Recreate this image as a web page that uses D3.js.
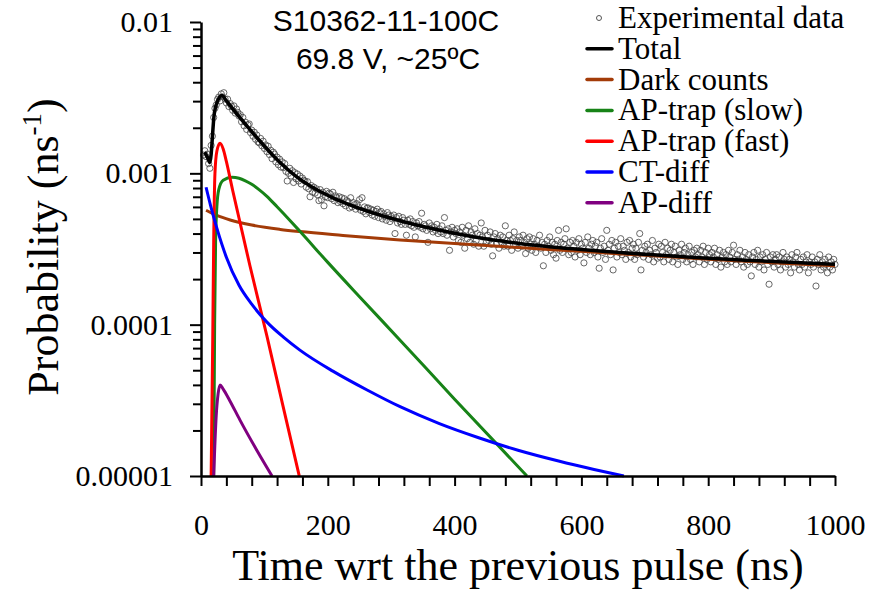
<!DOCTYPE html>
<html>
<head>
<meta charset="utf-8">
<script src="https://cdn.jsdelivr.net/npm/d3@7"></script>
<style>
  body { margin: 0; background: #fff; }
</style>
</head>
<body>
<script>
'use strict';

// experimental histogram, 2 ns bins starting at 4 ns, values in units of 1e-4 ns^-1
const expStart = 4;
const expStep = 2;
const expProb = [
13.2,14.1,12.9,13.4,11.6,10.8,15.3,17.6,23.4,26.9,
28.3,30.8,31.9,30.1,33.5,32.0,34.1,31.0,29.2,30.9,
27.6,28.9,27.8,26.1,27.9,25.0,26.6,25.3,23.9,24.4,
21.9,23.4,20.6,21.8,19.5,20.9,21.2,18.6,19.3,17.6,
18.7,16.8,17.9,16.1,15.9,17.0,15.2,16.3,14.6,15.4,
13.9,15.1,13.3,14.2,12.5,13.8,13.4,11.9,12.8,11.4,
12.4,11.0,11.9,10.9,11.6,10.3,8.9,10.0,10.8,9.6,
10.4,8.7,10.1,9.2,9.9,8.9,9.6,8.5,9.3,9.0,
8.9,8.1,8.8,7.9,7.0,8.3,7.5,8.1,7.4,7.9,
7.2,6.6,7.8,6.7,7.5,6.1,7.0,7.6,6.9,7.4,
7.3,6.8,7.5,6.6,7.1,6.9,6.4,7.0,6.5,6.9,
6.3,6.8,6.1,6.6,6.5,5.9,6.9,6.0,6.4,6.2,
5.8,6.3,6.0,6.7,5.7,6.9,5.6,6.0,5.4,5.9,
5.9,5.5,5.8,5.3,5.7,5.2,5.6,5.8,5.1,5.5,
5.6,5.0,5.4,5.2,4.9,5.5,5.3,4.8,5.2,5.0,
5.3,4.0,5.1,4.7,5.2,4.8,4.6,5.1,4.9,4.6,
3.9,4.9,4.6,5.0,4.5,4.8,4.4,3.8,4.7,4.5,
4.8,4.4,5.45,4.3,4.6,4.5,4.2,3.5,4.7,4.3,
4.5,4.1,4.4,4.2,4.6,4.0,4.3,4.1,4.5,4.0,
5.1,4.2,3.9,4.3,3.1,4.1,4.4,3.8,4.2,4.0,
4.3,3.6,4.1,3.5,4.4,3.9,3.2,4.2,3.7,4.5,
3.5,4.1,3.9,3.4,4.3,3.6,4.0,3.3,3.9,4.7,
3.8,3.3,4.2,3.5,3.9,3.6,4.1,3.4,2.85,3.8,
4.0,3.4,3.7,3.2,3.9,3.5,3.8,3.3,4.5,3.6,
3.3,3.9,3.6,3.1,3.7,4.1,3.4,3.6,3.2,3.8,
3.6,3.3,3.9,3.5,2.95,3.7,3.2,3.8,3.4,3.1,
3.7,3.4,3.0,3.6,3.3,3.9,3.2,3.5,2.45,3.4,
3.0,3.6,3.3,3.8,3.1,3.5,2.9,3.4,2.75,3.6,
4.2,3.1,3.5,3.0,3.4,3.7,4.3,3.2,2.9,3.5,
3.0,3.6,3.3,2.8,3.5,3.1,3.7,2.9,3.4,3.2,
2.56,3.5,3.0,3.8,3.2,2.9,3.4,3.6,3.0,3.3,
3.5,2.8,2.36,3.2,3.7,3.0,3.3,2.7,4.2,3.1,
3.4,2.9,3.6,2.3,3.2,3.5,2.8,3.3,3.0,3.7,
2.9,3.3,3.1,2.7,3.5,3.0,3.6,2.8,3.2,3.4,
2.7,3.2,2.9,3.5,4.0,2.3,3.1,2.8,3.3,3.0,
3.4,2.7,3.1,2.9,3.6,2.6,3.2,3.0,2.75,3.4,
2.8,3.3,3.0,2.6,3.5,2.9,3.2,2.7,3.1,3.4,
2.6,3.0,3.3,2.8,2.5,3.1,2.9,3.4,2.7,3.0,
3.2,2.6,2.9,3.3,2.7,3.0,2.5,3.1,2.8,3.2,
2.9,2.6,3.1,2.8,3.3,2.5,3.0,2.7,3.2,2.9,
2.6,3.0,2.8,3.2,2.5,2.9,2.7,3.1,2.4,2.8,
3.0,2.6,2.9,2.5,3.1,2.8,2.6,3.0,3.35,2.7,
2.5,2.9,2.7,3.1,2.6,2.8,2.4,3.0,2.7,2.5,
2.9,2.6,2.1,2.8,3.0,2.5,2.7,3.1,2.4,2.8,
2.6,2.9,2.3,2.7,3.0,2.5,1.85,2.8,2.6,2.9,
2.4,2.7,2.9,2.5,2.8,2.3,2.6,3.0,2.7,2.4,
2.8,2.5,2.7,2.2,2.9,2.6,2.4,2.8,3.0,2.5,
2.3,2.7,2.5,2.8,2.4,2.6,2.9,2.2,2.6,2.5,
2.8,2.4,2.6,1.8,2.7,2.5,2.9,2.3,2.6,2.4,
2.7,2.5,2.2,2.8,2.4,2.6,2.3,2.7,2.5
];

// fit curves (time in ns, probability in ns^-1)
const totalT = [6, 10, 14, 21, 26, 33, 40, 50, 69, 96, 121, 150, 180, 208, 261, 314, 366, 429, 535, 645, 787, 1000];
const totalP = [1.38e-3, 1.28e-3, 1.18e-3, 2.49e-3, 3.0e-3, 3.27e-3, 3.01e-3, 2.67e-3, 2.14e-3, 1.58e-3, 1.22e-3, 9.55e-4, 7.9e-4, 6.89e-4, 5.66e-4, 4.86e-4, 4.3e-4, 3.81e-4, 3.32e-4, 3.03e-4, 2.77e-4, 2.51e-4];

const darkT = [8, 25, 46, 80, 125, 156, 224, 314, 400, 500, 600, 700, 800, 900, 1000];
const darkP = [5.7e-4, 5.27e-4, 4.92e-4, 4.55e-4, 4.26e-4, 4.12e-4, 3.89e-4, 3.63e-4, 3.44e-4, 3.23e-4, 3.05e-4, 2.87e-4, 2.71e-4, 2.57e-4, 2.45e-4];

const slowT = [20, 21.5, 23, 25, 28, 35, 49, 60, 70, 80, 92, 104, 120, 140, 156, 200, 250, 314, 400, 514];
const slowP = [1e-5, 1e-4, 3.5e-4, 6e-4, 7.8e-4, 9.0e-4, 9.41e-4, 9.27e-4, 8.92e-4, 8.46e-4, 7.78e-4, 7.05e-4, 6.01e-4, 4.9e-4, 4.14e-4, 2.58e-4, 1.53e-4, 7.9e-5, 3.22e-5, 1e-5];

const fastT = [16, 18.5, 20, 22, 25, 30, 35, 40, 50, 60, 77, 104, 129, 155];
const fastP = [1e-5, 8e-5, 3.5e-4, 1.0e-3, 1.4e-3, 1.58e-3, 1.45e-3, 1.2e-3, 7.7e-4, 5.05e-4, 2.47e-4, 8.4e-5, 2.94e-5, 1e-5];

const ctT = [8, 15, 25, 40, 60, 80, 104, 130, 156, 208, 262, 314, 376, 438, 500, 564, 620, 667];
const ctP = [8.09e-4, 6.15e-4, 4.34e-4, 2.79e-4, 1.82e-4, 1.365e-4, 1.039e-4, 8.27e-5, 6.79e-5, 4.93e-5, 3.7e-5, 2.87e-5, 2.22e-5, 1.79e-5, 1.48e-5, 1.256e-5, 1.105e-5, 1e-5];

const apdT = [20, 24, 27, 30, 35, 45, 61.5, 88, 112];
const apdP = [1e-5, 2.5e-5, 3.5e-5, 4.0e-5, 3.75e-5, 3.17e-5, 2.34e-5, 1.48e-5, 1e-5];

const xTickLabels = [0, 200, 400, 600, 800, 1000];
const yTickValues = [1e-5, 1e-4, 1e-3, 1e-2];
const yTickLabels = ["0.00001", "0.0001", "0.001", "0.01"];

const legendLabels = ["Experimental data", "Total", "Dark counts", "AP-trap (slow)", "AP-trap (fast)", "CT-diff", "AP-diff"];
const legendColors = ["#555", "#000", "#a33b08", "#178317", "#ff0000", "#0000ff", "#800080"];

const serif = "'Liberation Serif', 'Times New Roman', serif";
const sans = "'Liberation Sans', Arial, sans-serif";

const svg = d3.select("body").append("svg")
  .attr("width", 883)
  .attr("height", 591);

const x = d3.scaleLinear().domain([0, 1000]).range([201, 835]);
const y = d3.scaleLog().domain([1e-5, 1e-2]).range([476, 22]);

svg.append("clipPath").attr("id", "plot")
  .append("rect").attr("x", 201).attr("y", 20).attr("width", 636).attr("height", 458);

// experimental points
svg.append("g")
  .selectAll("circle")
  .data(expProb)
  .enter().append("circle")
    .attr("cx", (d, i) => x(expStart + i * expStep))
    .attr("cy", d => y(d * 1e-4))
    .attr("r", 3.1)
    .attr("fill", "none")
    .attr("stroke", "#444")
    .attr("stroke-opacity", 0.8)
    .attr("stroke-width", 1);

const line = d3.line()
  .x(d => x(d[0]))
  .y(d => y(d[1]))
  .curve(d3.curveMonotoneX);

const curves = [
  [darkT, darkP, legendColors[2], 3],
  [slowT, slowP, legendColors[3], 3],
  [fastT, fastP, legendColors[4], 3],
  [ctT, ctP, legendColors[5], 3],
  [apdT, apdP, legendColors[6], 3],
  [totalT, totalP, legendColors[1], 3.5]
];

const gCurves = svg.append("g").attr("clip-path", "url(#plot)");
curves.forEach(c => {
  gCurves.append("path")
    .datum(c[0].map((t, i) => [t, c[1][i]]))
    .attr("d", line)
    .attr("fill", "none")
    .attr("stroke", c[2])
    .attr("stroke-width", c[3])
    .attr("stroke-linejoin", "round");
});

// axes
const xAxis = d3.axisBottom(x)
  .tickValues(d3.range(0, 1001, 40))
  .tickSize(10)
  .tickSizeOuter(0)
  .tickPadding(28)
  .tickFormat(d => xTickLabels.includes(d) ? d : "");

svg.append("g")
  .attr("transform", "translate(0,476)")
  .call(xAxis)
  .call(g => g.select(".domain").attr("stroke-width", 2.5))
  .call(g => g.selectAll(".tick line").attr("stroke-width", 2))
  .call(g => g.selectAll("text").attr("font-family", serif).attr("font-size", 30).attr("fill", "#000"));

let yMinor = [];
[1e-5, 1e-4, 1e-3].forEach(p => {
  for (let k = 2; k <= 9; k++) yMinor.push(p * k);
});

svg.append("g")
  .attr("transform", "translate(201,0)")
  .call(d3.axisLeft(y).tickValues(yMinor).tickSize(8).tickSizeOuter(0).tickFormat(""))
  .call(g => g.select(".domain").remove())
  .call(g => g.selectAll(".tick line").attr("stroke-width", 2));

svg.append("g")
  .attr("transform", "translate(201,0)")
  .call(d3.axisLeft(y).tickValues(yTickValues).tickSize(11).tickSizeOuter(0).tickPadding(17)
    .tickFormat((d, i) => yTickLabels[i]))
  .call(g => g.select(".domain").attr("stroke-width", 2.5))
  .call(g => g.selectAll(".tick line").attr("stroke-width", 2))
  .call(g => g.selectAll("text").attr("font-family", serif).attr("font-size", 30).attr("fill", "#000"));

// axis titles
svg.append("text")
  .attr("x", 518)
  .attr("y", 580)
  .attr("text-anchor", "middle")
  .attr("font-family", serif)
  .attr("font-size", 44)
  .text("Time wrt the previous pulse (ns)");

const yTitle = svg.append("text")
  .attr("transform", "translate(58,247) rotate(-90)")
  .attr("text-anchor", "middle")
  .attr("font-family", serif)
  .attr("font-size", 44);
yTitle.append("tspan").text("Probability (ns");
yTitle.append("tspan").attr("font-size", 27).attr("dy", -17).text("-1");
yTitle.append("tspan").attr("dy", 17).text(")");

// title
svg.append("text")
  .attr("x", 386).attr("y", 31)
  .attr("text-anchor", "middle")
  .attr("font-family", sans)
  .attr("font-size", 30)
  .text("S10362-11-100C");
svg.append("text")
  .attr("x", 388).attr("y", 69)
  .attr("text-anchor", "middle")
  .attr("font-family", sans)
  .attr("font-size", 30)
  .text("69.8 V, ~25\u00baC");

// legend
const legend = svg.append("g");
legendLabels.forEach((lab, i) => {
  let by = 28 + i * 30.8;
  if (i === 0) {
    legend.append("circle")
      .attr("cx", 599).attr("cy", by - 10).attr("r", 2.5)
      .attr("fill", "none").attr("stroke", "#555").attr("stroke-width", 1);
  } else {
    legend.append("line")
      .attr("x1", 587).attr("x2", 612)
      .attr("y1", by - 10).attr("y2", by - 10)
      .attr("stroke", legendColors[i])
      .attr("stroke-width", 3.5)
      .attr("stroke-linecap", "round");
  }
  legend.append("text")
    .attr("x", 618).attr("y", by)
    .attr("font-family", serif)
    .attr("font-size", 31)
    .text(lab);
});
</script>
</body>
</html>
